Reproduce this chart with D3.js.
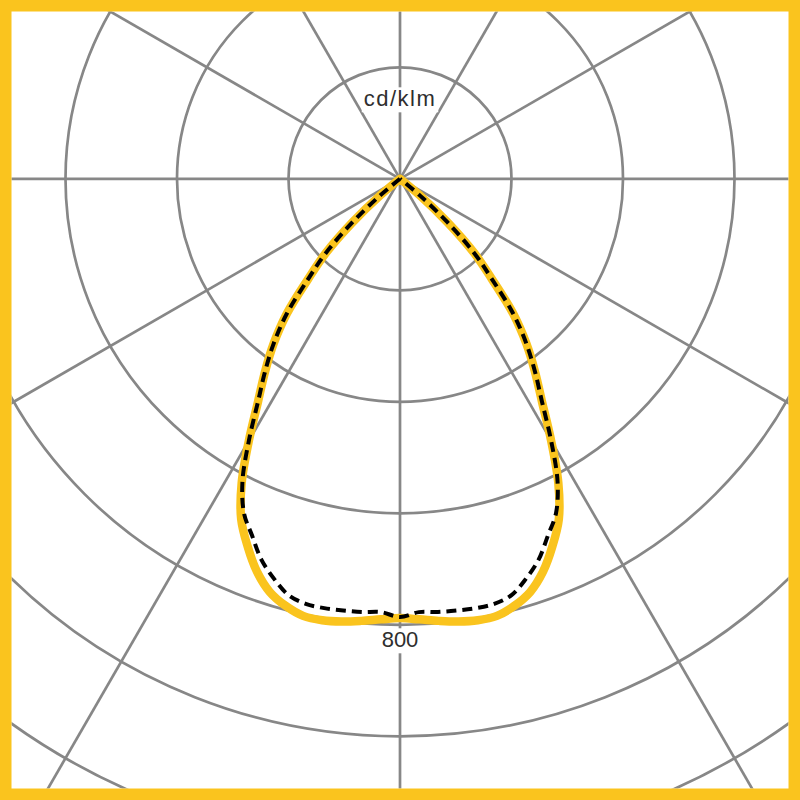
<!DOCTYPE html>
<html>
<head>
<meta charset="utf-8">
<script src="https://cdnjs.cloudflare.com/ajax/libs/d3/7.8.5/d3.min.js"></script>
<style>
  html, body { margin: 0; padding: 0; background: #fff; }
  svg { display: block; }
</style>
</head>
<body>
<svg id="chart" width="800" height="800"></svg>
<script>
// angles measured from nadir (degrees), the curves are symmetric left / right
var gammas = [0, 2.5, 5, 7.5, 10, 12.5, 15, 17.5, 20, 22.5, 25, 27.5, 30, 32.5, 35, 37.5, 40, 42.5, 45, 47.5, 50, 52.5];
// C0-C180 plane (yellow, solid)
var planeC0 = [788, 791, 796, 801, 804, 803, 793, 777, 750, 714, 674, 615, 542, 474, 422, 372, 316, 244, 188, 116, 47, 0];
// C90-C270 plane (black, dashed)
var planeC90 = [786, 778, 780, 781, 782, 781, 773, 752, 727, 693, 662, 612, 542, 474, 422, 372, 316, 244, 188, 116, 47, 0];

var ringValues = [200, 400, 600, 800, 1000, 1200, 1400];
var spokeAngles = [0, 30, 60, 90, 120, 150, 180, 210, 240, 270, 300, 330];
var unitLabel = "cd/klm";
var scaleLabel = 800;

var width = 800, height = 800;
var frame = 11.5;
var cx = 400, cy = 178.8;
var gridColor = "#878787";
var yellow = "#fac41e";

var svg = d3.select("#chart");
var r = d3.scaleLinear().domain([0, 1400]).range([0, 780.5]);

svg.append("defs").append("clipPath")
    .attr("id", "inside")
  .append("rect")
    .attr("x", frame).attr("y", frame)
    .attr("width", width - 2 * frame).attr("height", height - 2 * frame);

var plot = svg.append("g").attr("clip-path", "url(#inside)")
  .append("g")
    .attr("transform", "translate(" + cx + "," + cy + ")");

// grid rings
plot.selectAll(".ring")
  .data(ringValues)
  .enter().append("circle")
    .attr("class", "ring")
    .attr("r", function(d) { return r(d); })
    .attr("fill", "none")
    .attr("stroke", gridColor)
    .attr("stroke-width", 2.7);

// spokes every 30 degrees
plot.selectAll(".spoke")
  .data(spokeAngles)
  .enter().append("line")
    .attr("class", "spoke")
    .attr("x1", 0).attr("y1", 0)
    .attr("x2", function(d) { return r(1400) * Math.sin(d * Math.PI / 180); })
    .attr("y2", function(d) { return r(1400) * Math.cos(d * Math.PI / 180); })
    .attr("stroke", gridColor)
    .attr("stroke-width", 2.7);

// labels with a white patch behind them
function addLabel(text, y, spacing) {
  var g = plot.append("g");
  var t = g.append("text")
      .attr("x", 0)
      .attr("y", y)
      .attr("text-anchor", "middle")
      .attr("font-family", "'Liberation Sans', Arial, sans-serif")
      .attr("font-size", 22)
      .attr("letter-spacing", spacing)
      .attr("fill", "#2e2e2e")
      .text(text);
  var b = t.node().getBBox();
  g.insert("rect", "text")
      .attr("x", b.x - 2).attr("y", b.y + 1)
      .attr("width", b.width + 4).attr("height", b.height)
      .attr("fill", "#fff");
}
addLabel(unitLabel, -r(130), 1.5);
addLabel(String(scaleLabel), r(scaleLabel) + 22.5, 0);

// turn one half-plane into a full symmetric outline
function outline(vals) {
  var pts = [];
  for (var i = gammas.length - 1; i > 0; i--) pts.push({ g: -gammas[i], v: vals[i] });
  for (var j = 0; j < gammas.length; j++) pts.push({ g: gammas[j], v: vals[j] });
  return pts;
}

var curve = d3.lineRadial()
    .angle(function(d) { return Math.PI - d.g * Math.PI / 180; })
    .radius(function(d) { return r(d.v); })
    .curve(d3.curveCatmullRom.alpha(0.5));

plot.append("path")
    .attr("d", curve(outline(planeC0)))
    .attr("fill", "none")
    .attr("stroke", yellow)
    .attr("stroke-width", 8.5)
    .attr("stroke-linejoin", "round")
    .attr("stroke-linecap", "round");

plot.append("path")
    .attr("d", curve(outline(planeC90)))
    .attr("fill", "none")
    .attr("stroke", "#000")
    .attr("stroke-width", 4)
    .attr("stroke-dasharray", "10,6");

// yellow frame
svg.append("rect")
    .attr("x", frame / 2).attr("y", frame / 2)
    .attr("width", width - frame).attr("height", height - frame)
    .attr("fill", "none")
    .attr("stroke", yellow)
    .attr("stroke-width", frame);
</script>
</body>
</html>
